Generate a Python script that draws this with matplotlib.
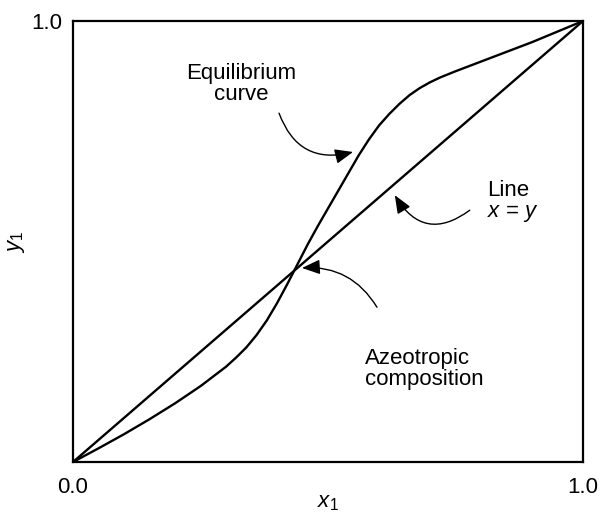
import matplotlib
matplotlib.use("Agg")
import matplotlib.pyplot as plt

plt.rcParams['font.family'] = ['Liberation Sans', 'DejaVu Sans']
plt.rcParams['mathtext.fontset'] = 'custom'
plt.rcParams['mathtext.rm'] = 'Liberation Sans'
plt.rcParams['mathtext.it'] = 'Liberation Sans:italic'

# Equilibrium curve (x1, y1)
eq_x = [0.0, 0.05, 0.10, 0.15, 0.20, 0.25, 0.30, 0.32, 0.34, 0.36, 0.38, 0.40,
        0.42, 0.44, 0.46, 0.48, 0.50, 0.52, 0.54, 0.56, 0.58, 0.60, 0.62, 0.64,
        0.66, 0.68, 0.70, 0.72, 0.75, 0.80, 0.85, 0.90, 0.95, 1.0]
eq_y = [0.0, 0.031, 0.063, 0.097, 0.133, 0.172, 0.216, 0.237, 0.260, 0.288, 0.321, 0.360,
        0.403, 0.448, 0.493, 0.535, 0.575, 0.615, 0.655, 0.695, 0.731, 0.763, 0.789, 0.812,
        0.832, 0.848, 0.861, 0.872, 0.886, 0.908, 0.930, 0.952, 0.976, 1.0]
# Line x = y
diag_x = [0.0, 1.0]
diag_y = [0.0, 1.0]

x_ticks = [0.0, 1.0]
x_ticklabels = ['0.0', '1.0']
y_ticks = [1.0]
y_ticklabels = ['1.0']

fs = 16

fig = plt.figure(figsize=(6.01, 5.13), dpi=100)
ax = fig.add_axes([73/601, 51/513, 510/601, 441/513])
ax.plot(eq_x, eq_y, color='black', lw=1.7, solid_joinstyle='round', solid_capstyle='round')
ax.plot(diag_x, diag_y, color='black', lw=1.7, solid_capstyle='round')
ax.set_xlim(0, 1)
ax.set_ylim(0, 1)
for s in ax.spines.values():
    s.set_linewidth(1.6)

ax.set_xticks(x_ticks)
ax.set_xticklabels(x_ticklabels)
ax.set_yticks(y_ticks)
ax.set_yticklabels(y_ticklabels)
ax.tick_params(axis='x', length=0, pad=11, labelsize=fs)
ax.tick_params(axis='y', length=0, pad=8, labelsize=fs)
ax.set_xlabel('$x_1$', fontsize=fs, va='center')
ax.xaxis.set_label_coords(0.5, -0.091)
ax.set_ylabel('$y_1$', fontsize=fs, va='center')
ax.yaxis.set_label_coords(-0.11, 0.5)

ap = dict(arrowstyle='-|>,head_length=1.1,head_width=0.45', color='black', lw=1.0,
          shrinkA=0, shrinkB=0)

ax.text(0.329, 0.857, 'Equilibrium\ncurve', transform=ax.transAxes, ha='center',
        va='center', multialignment='center', fontsize=fs, linespacing=1.05)
ax.annotate('', xy=(0.549, 0.703), xycoords='axes fraction',
            xytext=(0.404, 0.791), textcoords='axes fraction',
            arrowprops=dict(ap, connectionstyle='arc3,rad=0.45'))

ax.text(0.812, 0.615, 'Line', transform=ax.transAxes, ha='left', va='center', fontsize=fs)
ax.text(0.812, 0.563, '$x$ = $y$', transform=ax.transAxes, ha='left', va='center', fontsize=fs)
ax.annotate('', xy=(0.631, 0.605), xycoords='axes fraction',
            xytext=(0.778, 0.571), textcoords='axes fraction',
            arrowprops=dict(ap, connectionstyle='arc3,rad=-0.55'))

ax.text(0.573, 0.211, 'Azeotropic\ncomposition', transform=ax.transAxes, ha='left',
        va='center', fontsize=fs, linespacing=1.05)
ax.annotate('', xy=(0.449, 0.44), xycoords='axes fraction',
            xytext=(0.596, 0.351), textcoords='axes fraction',
            arrowprops=dict(ap, connectionstyle='arc3,rad=0.3'))

fig.savefig('out.png', dpi=100)
